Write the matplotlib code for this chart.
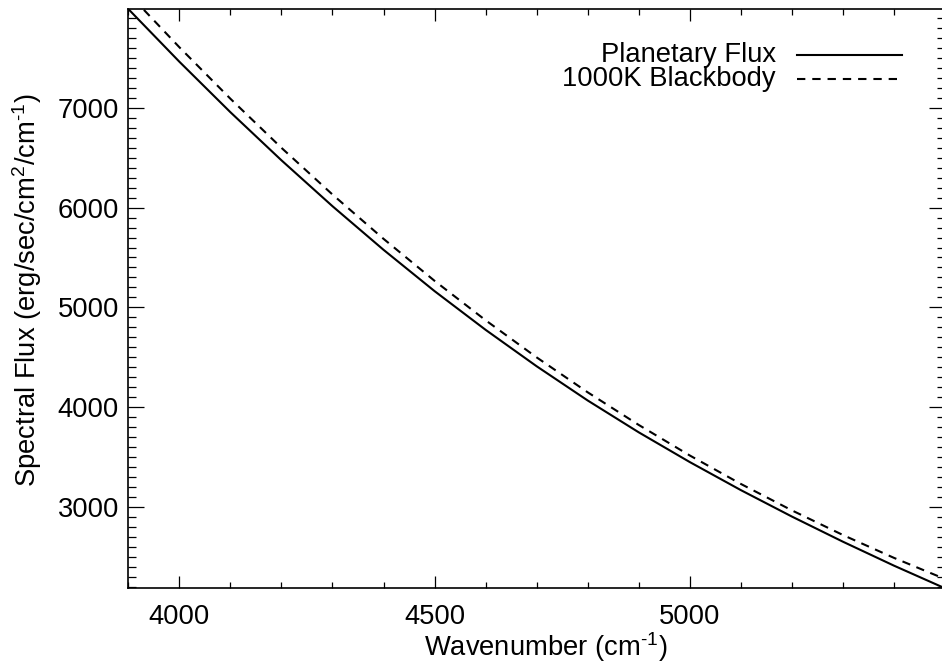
import matplotlib
matplotlib.use("Agg")
import matplotlib.pyplot as plt
from matplotlib.lines import Line2D
from matplotlib.ticker import MultipleLocator, FixedLocator

plt.rcParams["font.family"] = ["Liberation Sans", "DejaVu Sans"]
plt.rcParams["mathtext.fontset"] = "custom"
plt.rcParams["mathtext.rm"] = "Liberation Sans"
plt.rcParams["mathtext.it"] = "Liberation Sans"
plt.rcParams["lines.scale_dashes"] = False

# Wavenumber grid (cm^-1)
wavenumber = [3900, 4000, 4100, 4200, 4300, 4400, 4500, 4600, 4700,
              4800, 4900, 5000, 5100, 5200, 5300, 5400, 5500]

# Emergent planetary flux (erg/sec/cm^2/cm^-1)
planet_flux = [7990, 7462, 6956, 6474, 6014, 5577, 5163, 4775, 4410,
               4067, 3748, 3450, 3169, 2904, 2652, 2412, 2185]

# 1000 K blackbody flux (erg/sec/cm^2/cm^-1)
blackbody_flux = [8146, 7607, 7091, 6599, 6131, 5687, 5266, 4871, 4499,
                  4149, 3822, 3516, 3231, 2966, 2719, 2490, 2278]

x_major_ticks = [4000, 4500, 5000]
series_labels = ["Planetary Flux", "1000K Blackbody"]

W, H = 942, 663
fig = plt.figure(figsize=(W / 100, H / 100), dpi=100)

x0, x1 = 128.3, 945.0
y0, y1 = 9.0, 588.3
ax = fig.add_axes([x0 / W, 1 - y1 / H, (x1 - x0) / W, (y1 - y0) / H])

FS = 19.7
dash = (0, (6.0, 4.8))

ax.plot(wavenumber, planet_flux, color="black", lw=1.5)
ax.plot(wavenumber, blackbody_flux, color="black", lw=1.5, linestyle=dash)

ax.set_xlim(min(wavenumber), max(wavenumber))
ax.set_ylim(min(planet_flux), max(planet_flux))

ax.xaxis.set_major_locator(FixedLocator(x_major_ticks))
ax.xaxis.set_minor_locator(MultipleLocator(100))
ax.yaxis.set_major_locator(MultipleLocator(1000))
ax.yaxis.set_minor_locator(MultipleLocator(100))

for sp in ax.spines.values():
    sp.set_linewidth(1.2)
    sp.set_color("black")

ax.tick_params(axis="x", which="major", direction="in", length=8.3, width=0.9,
               top=True, bottom=True, labelsize=FS, pad=11.5, colors="black")
ax.tick_params(axis="x", which="minor", direction="in", length=4.2, width=0.9,
               top=True, bottom=True)
ax.tick_params(axis="y", which="major", direction="in", length=11.7, width=0.9,
               left=True, right=True, labelsize=FS, pad=6.7, colors="black")
ax.tick_params(axis="y", which="minor", direction="in", length=5.9, width=0.9,
               left=True, right=True)

fig.text(546 / W, 1 - 656 / H, r"Wavenumber (cm$^{\text{-}1}$)", fontsize=FS,
         ha="center", va="baseline")
fig.text(27 / W, 1 - 290 / H,
         r"Spectral Flux (erg/sec/cm$^{2}$/cm$^{\text{-}1}$)", fontsize=FS,
         rotation=90, ha="center", va="center")

# Legend: right-aligned labels followed by line samples
rows = [(55.0, "-"), (79.0, (0, (6.0, 5.0)))]
for (ly, ls), label in zip(rows, series_labels):
    fig.text(775.7 / W, 1 - (ly + 7.5) / H, label, fontsize=FS,
             ha="right", va="baseline")
    fig.add_artist(Line2D([796.7 / W, 901.7 / W], [1 - ly / H, 1 - ly / H],
                          transform=fig.transFigure, color="black", lw=1.5,
                          linestyle=ls))

fig.savefig("out.png", dpi=100)
